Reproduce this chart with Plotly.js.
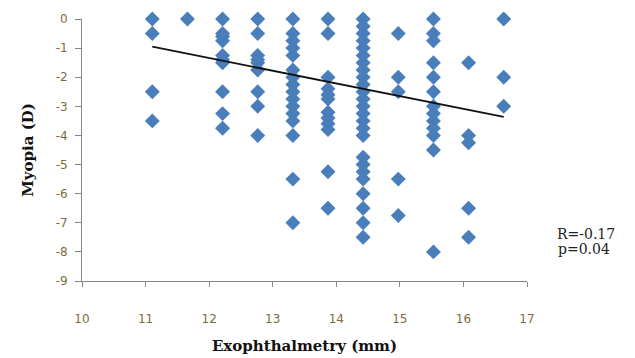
<!DOCTYPE html>
<html>
<head>
<meta charset="utf-8">
<script src="https://cdn.plot.ly/plotly-3.0.1.min.js"></script>
<style>html,body{margin:0;padding:0;background:#fff;}#chart{width:635px;height:358px;}</style>
</head>
<body>
<div id="chart"></div>
<script>
// Exophthalmetry (mm) groups and myopia (D) values
var col11  = [0, -0.5, -2.5, -3.5];
var col115 = [0];
var col12  = [0, -0.5, -0.6, -0.75, -1.25, -1.4, -1.5, -2.5, -3.25, -3.75];
var col125 = [0, -0.5, -1.25, -1.4, -1.5, -1.75, -2.5, -3, -4];
var col13  = [0, -0.5, -0.75, -1, -1.25, -1.75, -2, -2.25, -2.5, -2.75, -3, -3.25, -3.5, -4, -5.5, -7];
var col135 = [0, -0.5, -2, -2.4, -2.6, -2.75, -3.2, -3.4, -3.6, -3.8, -5.25, -6.5];
var col14  = [0, -0.25, -0.5, -0.75, -1, -1.25, -1.5, -1.75, -2, -2.25, -2.5, -2.75, -3, -3.25, -3.5, -3.75, -4, -4.75, -5, -5.25, -5.5, -6, -6.5, -7, -7.5];
var col145 = [-0.5, -2, -2.5, -5.5, -6.75];
var col15  = [0, -0.5, -0.75, -1.5, -2, -2.5, -3, -3.25, -3.5, -3.75, -4, -4.5, -8];
var col155 = [-1.5, -4, -4.25, -6.5, -7.5];
var col16  = [0, -2, -3];

var groupX = [11, 11.5, 12, 12.5, 13, 13.5, 14, 14.5, 15, 15.5, 16];
var groupY = [col11, col115, col12, col125, col13, col135, col14, col145, col15, col155, col16];

// linear trend line end points
var trendX = [11, 16];
var trendY = [-0.95, -3.36];

var xTickVals = [10, 11, 12, 13, 14, 15, 16, 17];
var yTickVals = [0, -1, -2, -3, -4, -5, -6, -7, -8, -9];
var yTickText = ["0", "-1", "-2", "-3", "-4", "-5", "-6", "-7", "-8", "-9"];
var statLines = ["R=-0.17", "p=0.04"];

var px = [], py = [];
groupX.forEach(function (gx, i) {
  groupY[i].forEach(function (v) { px.push(gx); py.push(v); });
});

var tickFont = {family: "DejaVu Sans, Verdana, sans-serif", size: 12, color: "#7d6b3d"};
var titleFont = {family: "DejaVu Serif, serif", size: 15, color: "#111", weight: "bold"};

var data = [
  {type: "scatter", mode: "markers", x: [10], y: [-9], xaxis: "x2", yaxis: "y",
   hoverinfo: "skip", marker: {opacity: 0, size: 1}},
  {type: "scatter", mode: "markers", x: px, y: py, xaxis: "x", yaxis: "y",
   cliponaxis: false, hoverinfo: "skip",
   marker: {symbol: "diamond", size: 11.5, color: "#4a7ebb", line: {width: 0}}},
  {type: "scatter", mode: "lines", x: trendX, y: trendY, xaxis: "x", yaxis: "y",
   cliponaxis: false, hoverinfo: "skip",
   line: {color: "#111", width: 1.8}}
];

var layout = {
  width: 635, height: 358,
  margin: {l: 82, r: 61, t: 19, b: 77},
  paper_bgcolor: "#fff", plot_bgcolor: "rgba(0,0,0,0)",
  showlegend: false,
  xaxis: {domain: [0, 1], range: [10, 17], visible: false, anchor: "y"},
  xaxis2: {domain: [0, 445 / 492], range: [10, 17], anchor: "y",
    tickvals: xTickVals, ticks: "outside", ticklen: 5, tickcolor: "#868686",
    showline: true, linecolor: "#868686", linewidth: 1,
    showgrid: false, zeroline: false, tickfont: tickFont, ticklabelstandoff: 22,
    title: {text: "Exophthalmetry (mm)", font: titleFont, standoff: 15}},
  yaxis: {range: [-9, 0], anchor: "x", domain: [0, 1],
    tickvals: yTickVals, ticktext: yTickText, ticks: "outside", ticklen: 6, tickcolor: "#868686",
    showline: true, linecolor: "#868686", linewidth: 1,
    showgrid: false, zeroline: false, tickfont: tickFont, ticklabelstandoff: 5,
    title: {text: "Myopia (D)", font: titleFont, standoff: 18}},
  annotations: [
    {xref: "paper", yref: "paper", x: 0.962, y: 0.179, xanchor: "left", yanchor: "middle",
     text: statLines[0], showarrow: false, font: {family: "DejaVu Serif, serif", size: 14, color: "#222"}},
    {xref: "paper", yref: "paper", x: 0.964, y: 0.121, xanchor: "left", yanchor: "middle",
     text: statLines[1], showarrow: false, font: {family: "DejaVu Serif, serif", size: 14, color: "#222"}}
  ]
};

Plotly.newPlot("chart", data, layout, {displayModeBar: false, staticPlot: true});
</script>
</body>
</html>
